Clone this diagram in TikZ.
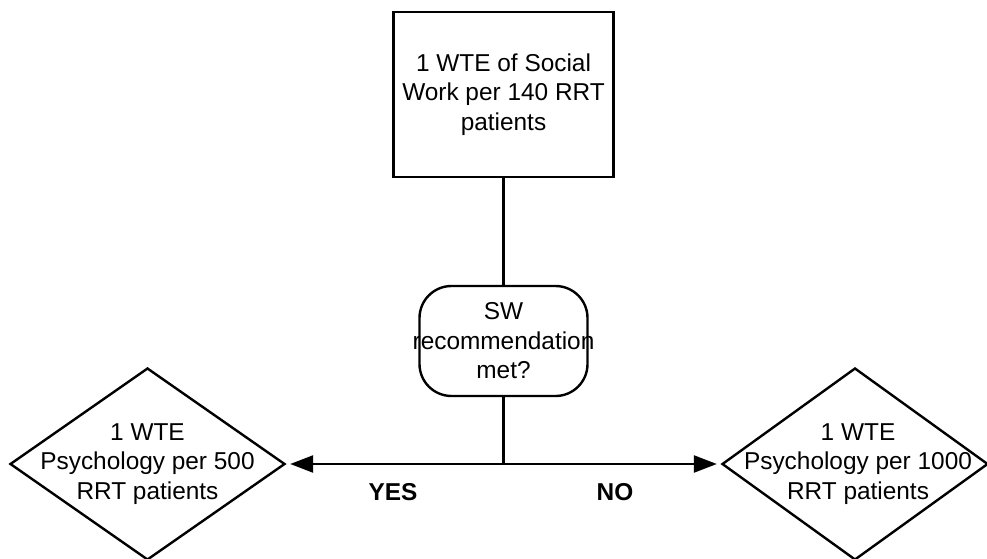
\documentclass[tikz,border=0pt]{standalone}
\usepackage{fontspec}
\setmainfont{Liberation Sans}
\usetikzlibrary{shapes.geometric, arrows.meta}

\begin{document}
\begin{tikzpicture}[x=1pt, y=1pt, line width=2.4pt,
  >={Triangle[length=23pt,width=17pt]},
  txt/.style={font=\fontsize{24.4}{29.5}\selectfont, align=center, inner sep=0pt},
  box/.style={draw, rectangle, minimum width=220pt, minimum height=165pt},
  query/.style={draw, rectangle, rounded corners=32pt, minimum width=168pt, minimum height=110pt},
  decision/.style={draw, diamond, inner sep=0pt, minimum height=192pt}]
  \useasboundingbox (0,0) rectangle (987,558);
  % social work ratio
  \node[box, txt] (sw) at (503.5,463.5) {1 WTE of Social\\Work per 140 RRT\\patients};
  % question
  \node[query] (met) at (503.5,217) {};
  \node[txt] (mettxt) at (met) {SW\\recommendation\\met?};
  \coordinate (split) at (503.5,94);
  % outcomes
  \node[decision, minimum width=275pt] (psy500) at (147.5,94) {};
  \node[txt] (psy500txt) at (psy500) {1 WTE\\Psychology per 500\\RRT patients};
  \node[decision, minimum width=266pt] (psy1000) at (855,94) {};
  \node[txt] (psy1000txt) at (858,94) {1 WTE\\Psychology per 1000\\RRT patients};
  % connectors
  \draw (sw) -- (met);
  \draw (met) -- (split);
  \draw[->, shorten >=4pt] (split) -- (psy500.east);
  \draw[->, shorten >=4pt] (split) -- (psy1000.west);
  \node[txt, font=\fontsize{24.4}{29.5}\selectfont\bfseries] (yes) at (393,66) {YES};
  \node[txt, font=\fontsize{24.4}{29.5}\selectfont\bfseries] (no) at (615,66) {NO};
\end{tikzpicture}
\end{document}
